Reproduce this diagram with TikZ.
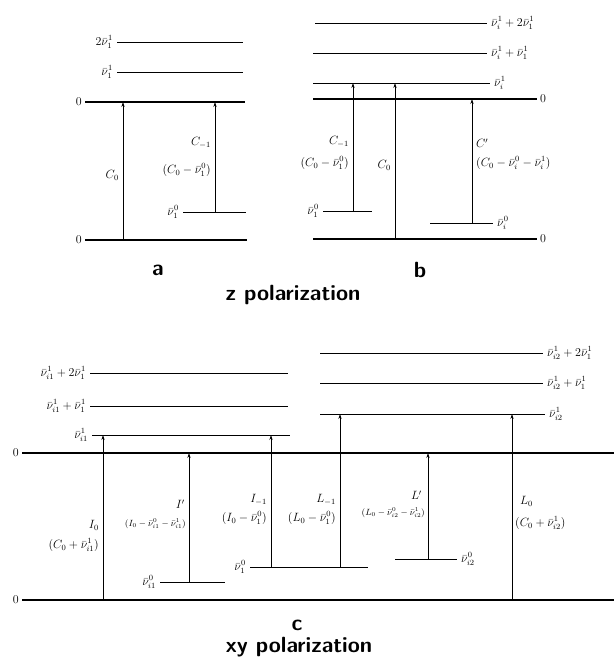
\documentclass[tikz,border=0pt]{standalone}
\usepackage{amsmath}
\usetikzlibrary{arrows.meta}
\begin{document}
\begin{tikzpicture}[x=1pt, y=-1pt,
  lvl/.style={line width=0.7pt},
  gnd/.style={line width=1.6pt},
  arr/.style={-{Stealth[length=5pt,width=3.2pt]}, line width=0.6pt},
  lab/.style={inner sep=2pt, font=\large},
  tag/.style={inner sep=0pt, font=\fontsize{22}{25}\selectfont\sffamily\bfseries}
]
\useasboundingbox (0,0) rectangle (614,662);
% Panel a: levels
\draw[lvl] (117,42) -- (243,42);
\draw[lvl] (117,72) -- (243,72);
\draw[gnd] (85,102) -- (245,102);
\draw[lvl] (183,212) -- (246,212);
\draw[gnd] (85,240) -- (247,240);
\node[lab, anchor=east] (a2) at (115,42)  {$2\bar{\nu}_1^1$};
\node[lab, anchor=east] (a1) at (115,72)  {$\bar{\nu}_1^1$};
\node[lab, anchor=east] (a0) at (84,102)  {$0$};
\node[lab, anchor=east] (an) at (181,212) {$\bar{\nu}_1^0$};
\node[lab, anchor=east] (ab) at (84,240)  {$0$};
% Panel a: transitions
\coordinate (aC0b) at (123,240); \coordinate (aC0t) at (123,102);
\coordinate (aCmb) at (215,212); \coordinate (aCmt) at (215,102);
\draw[arr] (aC0b) -- (aC0t);
\draw[arr] (aCmb) -- (aCmt);
\node[lab, anchor=east] (aC0)  at (121,175) {$C_0$};
\node[lab, anchor=east] (aCm)  at (213,143) {$C_{-1}$};
\node[lab, anchor=east] (aCmx) at (213,170) {$(C_0-\bar{\nu}_1^0)$};
% Panel b: levels
\draw[lvl] (315,23) -- (487,23);
\draw[lvl] (313,53) -- (487,53);
\draw[lvl] (313,83) -- (490,83);
\draw[gnd] (313,99) -- (537,99);
\draw[lvl] (323,211) -- (372,211);
\draw[lvl] (430,223) -- (493,223);
\draw[gnd] (313,239) -- (537,239);
\node[lab, anchor=west] (b2) at (489,23)  {$\bar{\nu}_i^1+2\bar{\nu}_1^1$};
\node[lab, anchor=west] (b1) at (489,53)  {$\bar{\nu}_i^1+\bar{\nu}_1^1$};
\node[lab, anchor=west] (bi) at (492,83)  {$\bar{\nu}_i^1$};
\node[lab, anchor=west] (b0) at (538,99)  {$0$};
\node[lab, anchor=east] (bn) at (321,211) {$\bar{\nu}_1^0$};
\node[lab, anchor=west] (bm) at (495,223) {$\bar{\nu}_i^0$};
\node[lab, anchor=west] (bb) at (538,239) {$0$};
% Panel b: transitions
\coordinate (bCmb) at (353,211); \coordinate (bCmt) at (353,83);
\coordinate (bC0b) at (395,239); \coordinate (bC0t) at (395,83);
\coordinate (bCpb) at (472,223); \coordinate (bCpt) at (472,99);
\draw[arr] (bCmb) -- (bCmt);
\draw[arr] (bC0b) -- (bC0t);
\draw[arr] (bCpb) -- (bCpt);
\node[lab, anchor=east] (bCm)  at (351,142) {$C_{-1}$};
\node[lab, anchor=east] (bCmx) at (351,163) {$(C_0-\bar{\nu}_1^0)$};
\node[lab, anchor=east] (bC0)  at (393,165) {$C_0$};
\node[lab, anchor=west] (bCp)  at (474,143) {$C'$};
\node[lab, anchor=west] (bCpx) at (474,163) {$(C_0-\bar{\nu}_i^0-\bar{\nu}_i^1)$};
% Captions a, b
\node[tag] (capa) at (158,270) {a};
\node[tag] (capb) at (420,270) {b};
\node[tag] (capz) at (293,295) {z polarization};
% Panel c: levels
\draw[lvl] (90,373) -- (288,373);
\draw[lvl] (90,406) -- (288,406);
\draw[lvl] (92,435) -- (290,435);
\draw[lvl] (320,353) -- (543,353);
\draw[lvl] (320,383) -- (543,383);
\draw[lvl] (320,414) -- (545,414);
\draw[gnd] (22,453) -- (614,453);
\draw[lvl] (160,582) -- (225,582);
\draw[lvl] (250,567) -- (368,567);
\draw[lvl] (395,559) -- (457,559);
\draw[gnd] (22,600) -- (614,600);
\node[lab, anchor=east] (c2) at (88,373)  {$\bar{\nu}_{i1}^1+2\bar{\nu}_1^1$};
\node[lab, anchor=east] (c1) at (88,406)  {$\bar{\nu}_{i1}^1+\bar{\nu}_1^1$};
\node[lab, anchor=east] (ci) at (90,435)  {$\bar{\nu}_{i1}^1$};
\node[lab, anchor=west] (d2) at (545,353) {$\bar{\nu}_{i2}^1+2\bar{\nu}_1^1$};
\node[lab, anchor=west] (d1) at (545,383) {$\bar{\nu}_{i2}^1+\bar{\nu}_1^1$};
\node[lab, anchor=west] (di) at (547,414) {$\bar{\nu}_{i2}^1$};
\node[lab, anchor=east] (c0) at (21,453)  {$0$};
\node[lab, anchor=east] (cm) at (158,582) {$\bar{\nu}_{i1}^0$};
\node[lab, anchor=east] (cn) at (248,567) {$\bar{\nu}_1^0$};
\node[lab, anchor=west] (dm) at (459,559) {$\bar{\nu}_{i2}^0$};
\node[lab, anchor=east] (cb) at (21,600)  {$0$};
% Panel c: transitions
\coordinate (cI0b) at (103,600); \coordinate (cI0t) at (103,435);
\coordinate (cIpb) at (189,582); \coordinate (cIpt) at (189,453);
\coordinate (cImb) at (271,567); \coordinate (cImt) at (271,435);
\coordinate (cLmb) at (340,567); \coordinate (cLmt) at (340,414);
\coordinate (cLpb) at (428,559); \coordinate (cLpt) at (428,453);
\coordinate (cL0b) at (512,600); \coordinate (cL0t) at (512,414);
\draw[arr] (cI0b) -- (cI0t);
\draw[arr] (cIpb) -- (cIpt);
\draw[arr] (cImb) -- (cImt);
\draw[arr] (cLmb) -- (cLmt);
\draw[arr] (cLpb) -- (cLpt);
\draw[arr] (cL0b) -- (cL0t);
\node[lab, anchor=east] (cI0)  at (101,525) {$I_0$};
\node[lab, anchor=east] (cI0x) at (101,545) {$(C_0+\bar{\nu}_{i1}^1)$};
\node[lab, anchor=east] (cIp)  at (187,504) {$I'$};
\node[lab, anchor=east, font=\small] (cIpx) at (188,524) {$(I_0-\bar{\nu}_{i1}^0-\bar{\nu}_{i1}^1)$};
\node[lab, anchor=east] (cIm)  at (269,500) {$I_{-1}$};
\node[lab, anchor=east] (cImx) at (269,518) {$(I_0-\bar{\nu}_1^0)$};
\node[lab, anchor=east] (cLm)  at (338,500) {$L_{-1}$};
\node[lab, anchor=east] (cLmx) at (338,518) {$(L_0-\bar{\nu}_1^0)$};
\node[lab, anchor=east] (cLp)  at (424,495) {$L'$};
\node[lab, anchor=east, font=\small] (cLpx) at (427,513) {$(L_0-\bar{\nu}_{i2}^0-\bar{\nu}_{i2}^1)$};
\node[lab, anchor=west] (cL0)  at (518,501) {$L_0$};
\node[lab, anchor=west] (cL0x) at (513,523) {$(C_0+\bar{\nu}_{i2}^1)$};
% Captions c
\node[tag] (capc) at (297,625) {c};
\node[tag] (capxy) at (299,647) {xy polarization};
\end{tikzpicture}
\end{document}
